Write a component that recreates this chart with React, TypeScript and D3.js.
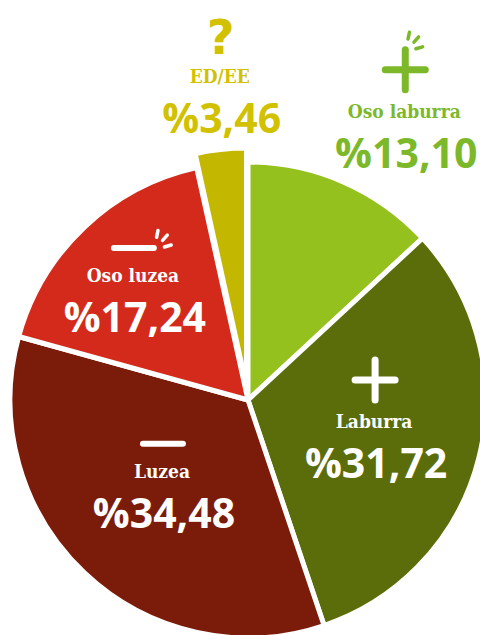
import * as d3 from 'd3';

const categories = ['Oso laburra', 'Laburra', 'Luzea', 'Oso luzea', 'ED/EE'];
const values = [13.1, 31.72, 34.48, 17.24, 3.46];
const valueLabels = ['%13,10', '%31,72', '%34,48', '%17,24', '%3,46'];
const icons = ['plus-spark', 'plus', 'minus', 'minus-spark', 'question'];

const sliceColors = ['#95c11f', '#5b6d0b', '#7b1c0a', '#d42a1b', '#c3b700'];
const textColors = ['#7cb82a', '#ffffff', '#ffffff', '#ffffff', '#d2c100'];

// label placement, relative to each slice's middle angle
const labelRadius = [281, 150, 153, 132, 268];
const labelShift = [10.7, 17.1, -10.1, -15.5, 0.6];
const explode = [0, 0, 0, 0, 14];

const W = 480;
const H = 635;
const cx = 248;
const cy = 400;
const R = 238;

const Sparks = ({ x, y, color }: { x: number; y: number; color: string }) => {
  const rays = [-78, -48, -16];
  return (
    <g>
      {rays.map((a, i) => {
        const t = (a * Math.PI) / 180;
        const r0 = i === 2 ? 11 : 13;
        const r1 = r0 + 7;
        return (
          <line
            key={i}
            x1={x + r0 * Math.cos(t)}
            y1={y + r0 * Math.sin(t)}
            x2={x + r1 * Math.cos(t)}
            y2={y + r1 * Math.sin(t)}
            stroke={color}
            strokeWidth={3.5}
            strokeLinecap="round"
          />
        );
      })}
    </g>
  );
};

const Icon = ({ kind, x, y, color }: { kind: string; x: number; y: number; color: string }) => {
  const half = 20;
  if (kind === 'question') {
    return (
      <text x={x} y={y + 19} textAnchor="middle" fill={color} fontFamily="'DejaVu Sans'" fontWeight={700} fontSize={48}>
        ?
      </text>
    );
  }
  const hbar = (
    <line x1={x - half} y1={y} x2={x + half} y2={y} stroke={color} strokeWidth={kind.startsWith('minus') ? 6 : 7} strokeLinecap="round" />
  );
  if (kind.startsWith('minus')) {
    return (
      <g>
        {hbar}
        {kind === 'minus-spark' && <Sparks x={x + half} y={y + 2} color={color} />}
      </g>
    );
  }
  return (
    <g>
      {hbar}
      <line x1={x} y1={y - half} x2={x} y2={y + half} stroke={color} strokeWidth={7} strokeLinecap="round" />
      {kind === 'plus-spark' && <Sparks x={x} y={y - half + 2} color={color} />}
    </g>
  );
};

export default function App() {
  const pie = d3
    .pie<number>()
    .sort(null)
    .value((d) => d);
  const arcs = pie(values);
  const arc = d3.arc<d3.PieArcDatum<number>>().innerRadius(0).outerRadius(R);

  return (
    <svg width={W} height={H} style={{ position: 'absolute', left: 0, top: 0 }}>
      <g transform={`translate(${cx},${cy})`}>
        {arcs.map((a, i) => {
          const mid = (a.startAngle + a.endAngle) / 2;
          const dx = explode[i] * Math.sin(mid);
          const dy = -explode[i] * Math.cos(mid);
          return (
            <path
              key={categories[i]}
              d={arc(a) || ''}
              transform={`translate(${dx},${dy})`}
              fill={sliceColors[i]}
              stroke="#ffffff"
              strokeWidth={5}
              strokeLinejoin="round"
            />
          );
        })}
      </g>
      {arcs.map((a, i) => {
        const mid = (a.startAngle + a.endAngle) / 2 + (labelShift[i] * Math.PI) / 180;
        const x = cx + labelRadius[i] * Math.sin(mid);
        const y = cy - labelRadius[i] * Math.cos(mid);
        const iconY = icons[i].startsWith('minus') ? y - 84 : y - 98;
        return (
          <g key={'lab' + i}>
            <Icon kind={icons[i]} x={x - 1} y={iconY} color={textColors[i]} />
            <text
              x={x - 2}
              y={y - 50}
              textAnchor="middle"
              fill={textColors[i]}
              fontFamily="'DejaVu Serif Condensed', 'DejaVu Serif'"
              fontWeight={700}
              fontSize={19}
            >
              {categories[i]}
            </text>
            <text
              x={x}
              y={y}
              textAnchor="middle"
              fill={textColors[i]}
              fontFamily="'Open Sans'"
              fontWeight={700}
              fontSize={41}
            >
              {valueLabels[i]}
            </text>
          </g>
        );
      })}
    </svg>
  );
}
